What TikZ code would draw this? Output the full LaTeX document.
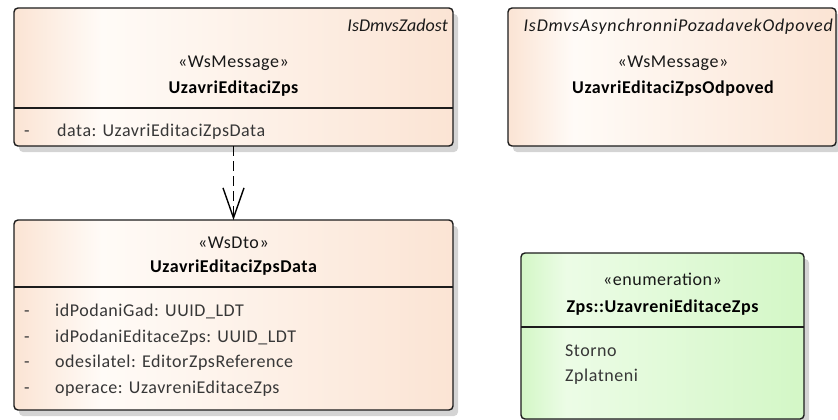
\documentclass[tikz,border=0pt]{standalone}
\usepackage{fontspec}
\setmainfont{Carlito}[LetterSpace=3, ItalicFeatures={LetterSpace=0}]
\newfontfamily\wideitfont{Carlito}[LetterSpace=3, ItalicFeatures={LetterSpace=4.5}]
\usetikzlibrary{arrows.meta,shadows}
\definecolor{peach}{RGB}{251,228,212}
\definecolor{peachlight}{RGB}{255,251,247}
\definecolor{greenbase}{RGB}{211,247,198}
\definecolor{greenlight}{RGB}{236,252,230}
\definecolor{edgecol}{RGB}{28,28,28}
\definecolor{attrcol}{RGB}{55,55,55}
\definecolor{shadowcol}{RGB}{212,212,212}
\pgfdeclarehorizontalshading{peachshade}{100bp}{color(0bp)=(peach); color(25bp)=(peach); color(35bp)=(peachlight); color(75bp)=(peach); color(100bp)=(peach)}
\pgfdeclarehorizontalshading{greenshade}{100bp}{color(0bp)=(greenbase); color(25bp)=(greenbase); color(33bp)=(greenlight); color(75bp)=(greenbase); color(100bp)=(greenbase)}
\tikzset{
  umlbox/.style={draw=edgecol, line width=1.4pt, rounded corners=4pt, inner sep=0pt, outer sep=0pt, anchor=north west,
    general shadow={shadow xshift=5pt, shadow yshift=-6pt, fill=shadowcol}},
  peachbox/.style={umlbox, shading=peachshade},
  greenbox/.style={umlbox, shading=greenshade},
  divider/.style={draw=edgecol, line width=1.4pt},
  stereo/.style={anchor=base, inner sep=0pt, text=black!90, font=\fontsize{18}{21}\selectfont},
  cname/.style={anchor=base, inner sep=0pt, text=black, font=\fontsize{18}{21}\selectfont\bfseries},
  tagtext/.style={anchor=base east, inner sep=0pt, text=black!90, font=\fontsize{18}{21}\selectfont\itshape},
  attrtext/.style={anchor=base west, inner sep=0pt, text=attrcol, font=\fontsize{18}{21}\selectfont},
  dep/.style={draw=black, line width=1.4pt, dash pattern=on 10pt off 5pt, -{Straight Barb[length=30pt, width=21pt, line width=1.4pt]}}
}
\begin{document}
\begin{tikzpicture}[x=1pt, y=-1pt]
\useasboundingbox (0,0) rectangle (838,420);
% Box 1
\node[peachbox, minimum width=439pt, minimum height=138pt] (b1) at (14,8) {};
\draw[divider] (14,108) -- (453,108);
\node[tagtext] (b1tag) at (448,32) {IsDmvsZadost};
\node[stereo] (b1st) at (233.5,67) {«WsMessage»};
\node[cname] (b1nm) at (233.5,93) {UzavriEditaciZps};
\node[attrtext] (b1d) at (24,136) {-};
\node[attrtext] (b1a) at (57,136) {data: UzavriEditaciZpsData};
% Box 2
\node[peachbox, minimum width=328pt, minimum height=138pt] (b2) at (508,8) {};
\node[tagtext, font=\fontsize{18}{21}\wideitfont\itshape] (b2tag) at (833,32) {IsDmvsAsynchronniPozadavekOdpoved};
\node[stereo] (b2st) at (673,67) {«WsMessage»};
\node[cname] (b2nm) at (673,93) {UzavriEditaciZpsOdpoved};
% Box 3
\node[peachbox, minimum width=439pt, minimum height=190pt] (b3) at (14,220) {};
\draw[divider] (14,287) -- (453,287);
\node[stereo] (b3st) at (233.5,248) {«WsDto»};
\node[cname] (b3nm) at (233.5,272) {UzavriEditaciZpsData};
\node[attrtext] (b3d1) at (24,316) {-};
\node[attrtext] (b3a1) at (55,316) {idPodaniGad: UUID\_LDT};
\node[attrtext] (b3d2) at (24,342) {-};
\node[attrtext] (b3a2) at (55,342) {idPodaniEditaceZps: UUID\_LDT};
\node[attrtext] (b3d3) at (24,367) {-};
\node[attrtext] (b3a3) at (55,367) {odesilatel: EditorZpsReference};
\node[attrtext] (b3d4) at (24,393) {-};
\node[attrtext] (b3a4) at (55,393) {operace: UzavreniEditaceZps};
% Box 4
\node[greenbox, minimum width=283pt, minimum height=166pt] (b4) at (521,253) {};
\draw[divider] (521,327) -- (804,327);
\node[stereo] (b4st) at (662.5,285) {«enumeration»};
\node[cname] (b4nm) at (662.5,312) {Zps::UzavreniEditaceZps};
\node[attrtext] (b4a1) at (565,356) {Storno};
\node[attrtext] (b4a2) at (565,381) {Zplatneni};
% dependency
\draw[dep] (b1.south) -- (b3.north);
\end{tikzpicture}
\end{document}
